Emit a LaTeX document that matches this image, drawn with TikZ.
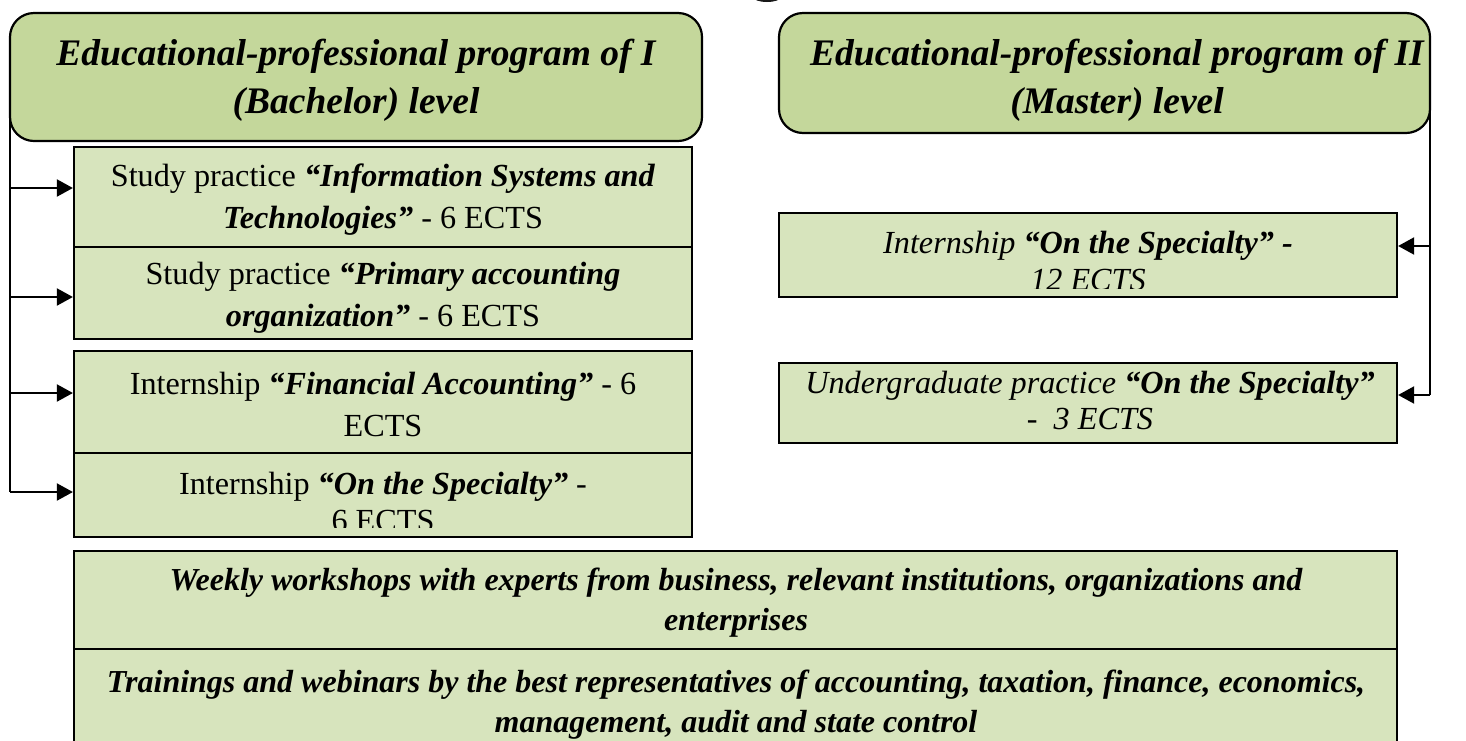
\documentclass[tikz,border=0pt]{standalone}
\usepackage{fontspec}
\setmainfont{Liberation Serif}
\usetikzlibrary{arrows.meta}
\definecolor{hdrfill}{HTML}{C4D79B}
\definecolor{boxfill}{HTML}{D7E4BD}
\newcommand{\bitext}[1]{\textbf{\textit{#1}}}
\tikzset{
 hdr/.style={draw=black, line width=2.2pt, fill=hdrfill, rounded corners=24pt, inner sep=0pt},
 box/.style={draw=black, line width=2.2pt, fill=boxfill, inner sep=0pt},
 txt/.style={align=center, inner sep=0pt, font=\fontsize{32.2}{42}\selectfont},
 htxt/.style={align=center, inner sep=0pt, font=\fontsize{37.5}{48}\selectfont\bfseries\itshape},
 wtxt/.style={align=center, inner sep=0pt, font=\fontsize{32}{40}\selectfont\bfseries\itshape},
 conn/.style={line width=2pt, -{Triangle[length=16pt,width=17pt]}},
 trunk/.style={line width=2pt},
}
\begin{document}
\begin{tikzpicture}[x=1pt,y=-1pt]
\useasboundingbox (0,0) rectangle (1466,740);
% partial shape at the top edge
\fill[black!90] (767,-3) ellipse [x radius=14pt, y radius=5pt];
% headers
\node[hdr, minimum width=692pt, minimum height=128pt] (h1) at (356,77) {};
\node[htxt] (h1t) at (356,80) {Educational-professional program of I\\(Bachelor) level};
\node[hdr, minimum width=651pt, minimum height=120pt] (h2) at (1104.5,73) {};
\node[htxt] (h2t) at (1117,80) {Educational-professional program of II\\(Master) level};
% left boxes
\node[box, minimum width=618pt, minimum height=100pt] (b1) at (383,197) {};
\node[box, minimum width=618pt, minimum height=92pt] (b2) at (383,293) {};
\node[box, minimum width=618pt, minimum height=102pt] (b3) at (383,402) {};
\node[box, minimum width=618pt, minimum height=84pt] (b4) at (383,495) {};
\node[txt] (b1t) at (383,200) {Study practice \bitext{“Information Systems and}\\\bitext{Technologies”} - 6 ECTS};
\node[txt] (b2t) at (383,298) {Study practice \bitext{“Primary accounting}\\\bitext{organization”} - 6 ECTS};
\node[txt] (b3t) at (383,404) {Internship \bitext{“Financial Accounting”} - 6\\ECTS};
\begin{scope}
\clip (74,453) rectangle (692,527);
\node[txt, font=\fontsize{32.2}{37}\selectfont] (b4t) at (383,502) {Internship \bitext{“On the Specialty”} -\\6 ECTS};
\end{scope}
% right boxes
\node[box, minimum width=618pt, minimum height=84pt] (r1) at (1088,255) {};
\node[box, minimum width=618pt, minimum height=80pt] (r2) at (1088,403) {};
\begin{scope}
\clip (779,213) rectangle (1397,288);
\node[txt, font=\fontsize{32.2}{37}\selectfont\itshape] (r1t) at (1088,261) {Internship \textbf{“On the Specialty” -}\\12 ECTS};
\end{scope}
\node[txt, font=\fontsize{32.2}{36}\selectfont\itshape] (r2t) at (1090,400) {Undergraduate practice \textbf{“On the Specialty”}\\-~ 3 ECTS};
% bottom boxes
\node[box, minimum width=1323pt, minimum height=98pt] (w1) at (735.5,600) {};
\node[box, minimum width=1323pt, minimum height=93pt] (w2) at (735.5,695.5) {};
\node[wtxt] (w1t) at (736,603) {Weekly workshops with experts from business, relevant institutions, organizations and\\enterprises};
\node[wtxt] (w2t) at (736,705) {Trainings and webinars by the best representatives of accounting, taxation, finance, economics,\\management, audit and state control};
% left connectors
\coordinate (lt) at (10,115);
\coordinate (lb) at (10,492);
\draw[trunk] (lt) -- (lb);
\coordinate (l1) at (10,188);
\coordinate (l2) at (10,297);
\coordinate (l3) at (10,393);
\draw[conn] (l1) -- (l1 -| b1.west);
\draw[conn] (l2) -- (l2 -| b2.west);
\draw[conn] (l3) -- (l3 -| b3.west);
\draw[conn] (lb) -- (lb -| b4.west);
% right connectors
\coordinate (rt) at (1430,110);
\coordinate (rb) at (1430,395);
\draw[trunk] (rt) -- (rb);
\coordinate (q1) at (1430,246);
\draw[conn] (q1) -- (q1 -| r1.east);
\draw[conn] (rb) -- (rb -| r2.east);
\end{tikzpicture}
\end{document}
